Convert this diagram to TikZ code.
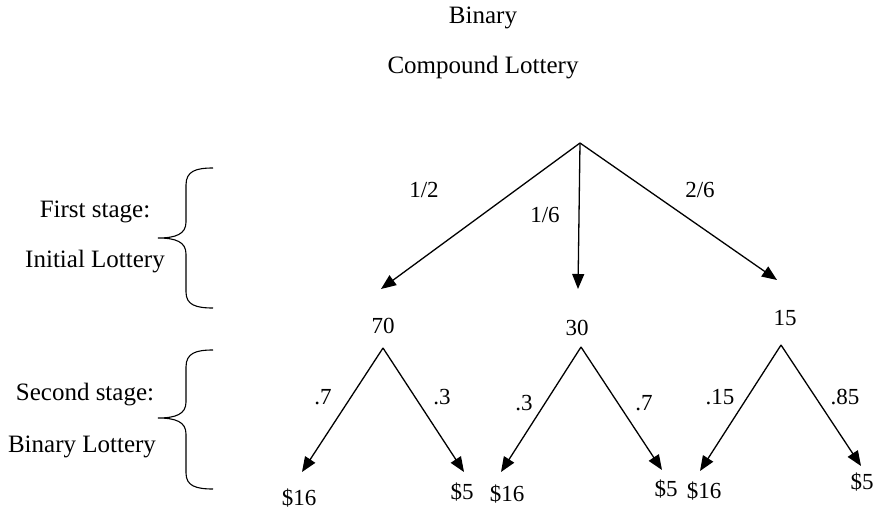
\documentclass[tikz,border=0pt]{standalone}
\usepackage{fontspec}
\setmainfont{Liberation Serif}
\usetikzlibrary{arrows.meta}
\begin{document}
\begin{tikzpicture}[x=1pt,y=-1pt,
  txt/.style={font=\fontsize{25}{28}\selectfont, inner sep=0pt},
  num/.style={font=\fontsize{23}{26}\selectfont, inner sep=0pt},
  arr/.style={line width=1.3pt, -{Triangle[length=15pt,width=12pt]}},
  bracestyle/.style={line width=1.1pt}]
\useasboundingbox (0,0) rectangle (880,516);
% titles
\node[txt] (t1) at (483,18) {Binary};
\node[txt] (t2) at (483,68) {Compound Lottery};
% stage labels
\node[txt] (s1a) at (95,212) {First stage:};
\node[txt] (s1b) at (95,262) {Initial Lottery};
\node[txt] (s2a) at (85,395) {Second stage:};
\node[txt] (s2b) at (82,447) {Binary Lottery};
% braces
\draw[bracestyle] (213,168) .. controls (196,168) and (186,171) .. (186,185) -- (186,222)
  .. controls (186,234) and (176,238) .. (158,238)
  .. controls (176,238) and (186,242) .. (186,254) -- (186,292)
  .. controls (186,305) and (196,308) .. (213,308);
\draw[bracestyle] (213,350) .. controls (196,350) and (186,353) .. (186,367) -- (186,402)
  .. controls (186,414) and (176,418) .. (158,418)
  .. controls (176,418) and (186,422) .. (186,434) -- (186,473)
  .. controls (186,486) and (196,489) .. (213,489);
% first stage
\coordinate (r) at (580,143);
\coordinate (e1) at (381,289);
\coordinate (e2) at (578,289);
\coordinate (e3) at (777,280);
\draw[arr] (r) -- (e1);
\draw[arr] (r) -- (e2);
\draw[arr] (r) -- (e3);
\node[num] (p1) at (424,190) {1/2};
\node[num] (p2) at (545,215) {1/6};
\node[num] (p3) at (700,190) {2/6};
\node[num] (n70) at (383,326) {70};
\node[num] (n30) at (577,328) {30};
\node[num] (n15) at (785,318) {15};
% second stage
\coordinate (a1) at (383,348);
\coordinate (a2) at (581,347);
\coordinate (a3) at (781,345);
\coordinate (b1) at (302,472);
\coordinate (c1) at (464,472);
\coordinate (b2) at (501,472);
\coordinate (c2) at (662,470);
\coordinate (b3) at (700,471);
\coordinate (c3) at (861,466);
\draw[arr] (a1) -- (b1);
\draw[arr] (a1) -- (c1);
\draw[arr] (a2) -- (b2);
\draw[arr] (a2) -- (c2);
\draw[arr] (a3) -- (b3);
\draw[arr] (a3) -- (c3);
\node[num] (q1) at (323,397) {.7};
\node[num] (q2) at (442,397) {.3};
\node[num] (q3) at (524,403) {.3};
\node[num] (q4) at (644,403) {.7};
\node[num] (q5) at (720,397) {.15};
\node[num] (q6) at (845,397) {.85};
\node[num] (v1) at (299,498) {\$16};
\node[num] (v2) at (462,492) {\$5};
\node[num] (v3) at (507,494) {\$16};
\node[num] (v4) at (666,489) {\$5};
\node[num] (v5) at (704,491) {\$16};
\node[num] (v6) at (862,482) {\$5};
\end{tikzpicture}
\end{document}
